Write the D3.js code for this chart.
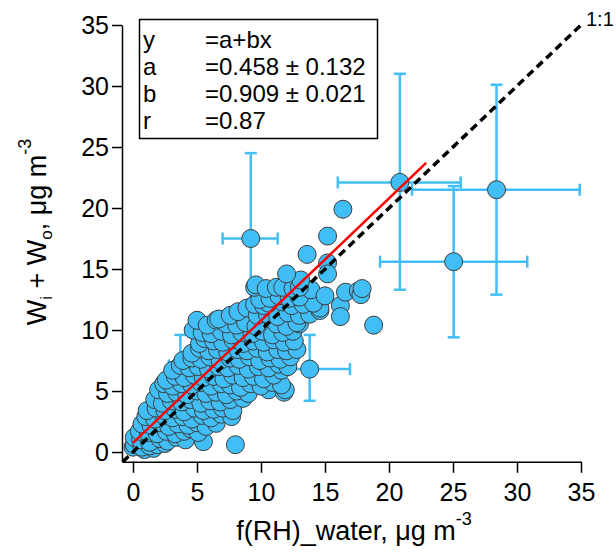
<!DOCTYPE html>
<html>
<head>
<meta charset="utf-8">
<script src="https://cdn.jsdelivr.net/npm/d3@7"></script>
<style>
  body { margin: 0; background: #fff; }
  svg { display: block; font-family: "Liberation Sans", Arial, sans-serif; }
  .axis path, .axis line { stroke: #000; stroke-width: 1.5; }
  .axis text { font-size: 25px; fill: #000; }
</style>
</head>
<body>
<svg id="chart" width="616" height="557"></svg>
<script>
// scatter cloud [f(RH)_water, Wi+Wo]
const scatterPts = [
  [0.0,0.4],[0.9,0.2],[1.6,0.3],
  [0.1,0.6],[0.7,0.4],[1.3,0.5],[1.9,0.6],[2.5,0.7],[8.0,0.6],
  [0.1,1.2],[0.6,1.0],[1.3,0.8],[2.1,1.1],[2.7,0.9],[3.4,1.2],[4.1,1.0],[5.5,0.85],
  [0.5,1.7],[1.2,1.6],[1.9,1.5],[2.6,1.7],[3.3,1.5],[4.0,1.7],[4.5,1.9],[5.1,1.6],
  [0.7,2.3],[1.4,2.2],[2.1,2.4],[2.8,2.1],[3.5,2.3],[4.3,2.2],[5.0,2.4],[5.7,2.1],[6.5,2.35],
  [1.0,2.9],[1.7,2.7],[2.4,3.0],[3.1,2.8],[3.9,2.9],[4.6,2.7],[5.4,3.0],[6.1,2.8],[6.9,3.1],[7.7,2.9],
  [1.1,3.4],[1.8,3.6],[2.5,3.4],[3.3,3.5],[4.0,3.3],[4.8,3.6],[5.5,3.4],[6.3,3.5],[7.0,3.6],[7.8,3.4],
  [1.7,4.3],[2.3,4.0],[3.0,4.2],[3.8,4.1],[4.5,4.3],[5.3,4.0],[6.0,4.2],[6.8,4.1],[7.6,4.3],[8.6,4.4],
  [2.0,5.1],[2.7,4.8],[3.4,4.9],[4.2,4.7],[5.0,5.0],[5.7,4.8],[6.5,4.9],[7.3,4.7],[8.1,5.0],[9.0,4.8],[10.6,5.1],[11.8,4.9],[11.9,5.1],
  [2.4,5.6],[3.1,5.4],[3.8,5.6],[4.6,5.5],[5.3,5.7],[6.1,5.4],[6.9,5.6],[7.6,5.5],[8.4,5.3],[9.2,5.6],[10.0,5.4],[10.9,5.7],[11.6,5.5],
  [2.6,5.9],[3.3,6.2],[4.0,6.1],[4.8,6.3],[5.5,6.1],[6.3,6.2],[7.1,6.0],[7.8,6.3],[8.6,6.1],[9.4,6.2],[10.2,6.0],[11.0,6.3],[11.6,6.7],
  [3.1,6.7],[3.7,7.1],[4.4,6.9],[5.1,7.0],[5.9,6.8],[6.7,7.0],[7.4,6.9],[8.2,7.1],[9.0,6.8],[9.8,7.0],[10.6,6.9],[11.4,7.2],[12.1,7.0],
  [3.9,7.5],[4.6,7.7],[5.3,7.6],[6.0,7.8],[6.8,7.5],[7.6,7.7],[8.3,7.6],[9.1,7.8],[9.9,7.5],[10.7,7.7],[11.5,7.6],[12.3,7.8],
  [4.6,8.1],[5.2,8.5],[5.9,8.3],[6.6,8.4],[7.4,8.2],[8.2,8.4],[8.9,8.3],[9.7,8.5],[10.5,8.2],[11.3,8.4],[12.0,8.3],[12.8,8.4],
  [5.2,8.9],[5.6,9.3],[6.3,9.1],[7.0,9.0],[7.8,9.2],[8.6,8.9],[9.4,9.1],[10.2,9.0],[11.0,9.2],[11.8,9.0],[12.6,9.1],
  [4.7,10.0],[5.4,9.8],[6.1,9.7],[6.9,9.9],[7.7,9.6],[8.5,9.8],[9.3,9.7],[10.1,9.9],[10.9,9.6],[11.7,9.8],[12.5,9.9],[13.0,10.5],
  [5.0,10.8],[5.8,10.4],[6.5,10.8],[7.3,10.5],[8.1,10.4],[8.8,10.6],[9.6,10.3],[11.2,10.5],[12.0,10.3],[12.8,10.6],
  [6.7,10.9],[7.6,11.2],[8.2,11.5],[8.9,11.8],[9.7,11.2],[10.5,11.3],[11.3,11.1],[12.1,11.4],[13.0,11.2],[13.8,11.3],[14.6,11.6],[14.6,11.8],
  [9.5,12.1],[10.2,12.0],[10.6,12.2],[11.7,12.3],[12.4,12.0],[13.3,12.1],[14.1,12.2],[16.2,12.0],[16.2,11.1],
  [9.9,12.5],[10.7,12.6],[11.4,12.8],[12.2,12.6],[13.0,12.7],[13.9,13.3],[15.0,12.8],
  [9.5,13.5],[9.6,13.7],[10.4,13.4],[11.2,13.5],[11.7,13.5],[12.5,13.4],[13.0,13.5],[13.1,14.1],[12.0,14.6],
  [16.6,13.1],[17.6,13.2],[17.8,12.9],[17.9,13.4],
  [13.6,16.2],[15.2,17.7],[15.2,15.5],[15.2,14.6],[16.4,19.9],[18.8,10.4]
];

// averaged points with error bars: x, y, xLo, xHi, yLo, yHi
const errPts = [
  [3.7, 7.1, 2.8, 4.6, 4.6, 9.6],
  [9.2, 17.5, 7.0, 11.3, 10.5, 24.5],
  [13.8, 6.8, 10.6, 16.95, 4.2, 9.6],
  [20.85, 22.1, 16.0, 25.6, 13.3, 31.0],
  [25.05, 15.6, 19.3, 30.8, 9.4, 21.8],
  [28.4, 21.5, 21.8, 34.9, 12.9, 30.1]
];

const fitLine = [[0.0, 0.75], [22.9, 23.7]];
const oneToOne = [[-0.8, -0.8], [35, 35]];

const xTicks = [0, 5, 10, 15, 20, 25, 30, 35];
const yTicks = [0, 5, 10, 15, 20, 25, 30, 35];

const fitText = [
  ['y', '=a+bx'],
  ['a', '=0.458 \u00b1 0.132'],
  ['b', '=0.909 \u00b1 0.021'],
  ['r', '=0.87']
];

const svg = d3.select('#chart');
const blue = '#41bef5';

const x = d3.scaleLinear().domain([-0.86, 35]).range([122, 581]);
const y = d3.scaleLinear().domain([-0.8, 35]).range([461.8, 25]);

// error bars (behind the markers)
const gErr = svg.append('g').attr('stroke', blue).attr('stroke-width', 2.5);
const cap = 6;
errPts.forEach(([px, py, x0, x1, y0, y1]) => {
  gErr.append('line').attr('x1', x(x0)).attr('x2', x(x1)).attr('y1', y(py)).attr('y2', y(py));
  gErr.append('line').attr('x1', x(px)).attr('x2', x(px)).attr('y1', y(y0)).attr('y2', y(y1));
  [x0, x1].forEach(v => gErr.append('line')
    .attr('x1', x(v)).attr('x2', x(v)).attr('y1', y(py) - cap).attr('y2', y(py) + cap));
  [y0, y1].forEach(v => gErr.append('line')
    .attr('x1', x(px) - cap).attr('x2', x(px) + cap).attr('y1', y(v)).attr('y2', y(v)));
});

const gPts = svg.append('g').attr('fill', blue).attr('stroke', '#3c3c3c').attr('stroke-width', 1);
gPts.selectAll('circle.e').data(errPts).join('circle').attr('class', 'e')
  .attr('cx', d => x(d[0])).attr('cy', d => y(d[1])).attr('r', 9);
gPts.selectAll('circle.s').data(scatterPts).join('circle').attr('class', 's')
  .attr('cx', d => x(d[0])).attr('cy', d => y(d[1])).attr('r', 9);

const line = d3.line().x(d => x(d[0])).y(d => y(d[1]));
svg.append('path').attr('d', line(oneToOne)).attr('fill', 'none')
  .attr('stroke', '#000').attr('stroke-width', 3.5).attr('stroke-dasharray', '8,5');
svg.append('path').attr('d', line(fitLine)).attr('fill', 'none')
  .attr('stroke', '#ff0000').attr('stroke-width', 2.5);

svg.append('text').attr('x', 586).attr('y', 26).attr('font-size', 20).text('1:1');

// axes
svg.append('g').attr('class', 'axis').attr('transform', 'translate(0,461.8)')
  .call(d3.axisBottom(x).tickValues(xTicks).tickSize(11).tickSizeOuter(0).tickPadding(10));
svg.append('g').attr('class', 'axis').attr('transform', 'translate(122,0)')
  .call(d3.axisLeft(y).tickValues(yTicks).tickSize(10).tickSizeOuter(0).tickPadding(3));

// axis titles
const xt = svg.append('text').attr('x', 354).attr('y', 540).attr('text-anchor', 'middle').attr('font-size', 27);
xt.append('tspan').text('f(RH)_water, \u03bcg m');
xt.append('tspan').attr('font-size', 18).attr('dy', -15).text('-3');

const yt = svg.append('text').attr('transform', 'translate(46,232) rotate(-90)')
  .attr('text-anchor', 'middle').attr('font-size', 27);
yt.append('tspan').text('W');
yt.append('tspan').attr('font-size', 17).attr('dy', 6).text('i');
yt.append('tspan').attr('dy', -6).text(' + W');
yt.append('tspan').attr('font-size', 17).attr('dy', 6).text('o');
yt.append('tspan').attr('dy', -6).text(', \u03bcg m');
yt.append('tspan').attr('font-size', 18).attr('dy', -15).text('-3');

// fit legend box
svg.append('rect').attr('x', 139.5).attr('y', 19.5).attr('width', 238).attr('height', 119)
  .attr('fill', '#fff').attr('stroke', '#000').attr('stroke-width', 1.5);
fitText.forEach(([k, v], i) => {
  const ty = 47.5 + i * 27.3;
  svg.append('text').attr('x', 143).attr('y', ty).attr('font-size', 24).text(k);
  svg.append('text').attr('x', 205).attr('y', ty).attr('font-size', 24).text(v);
});
</script>
</body>
</html>
